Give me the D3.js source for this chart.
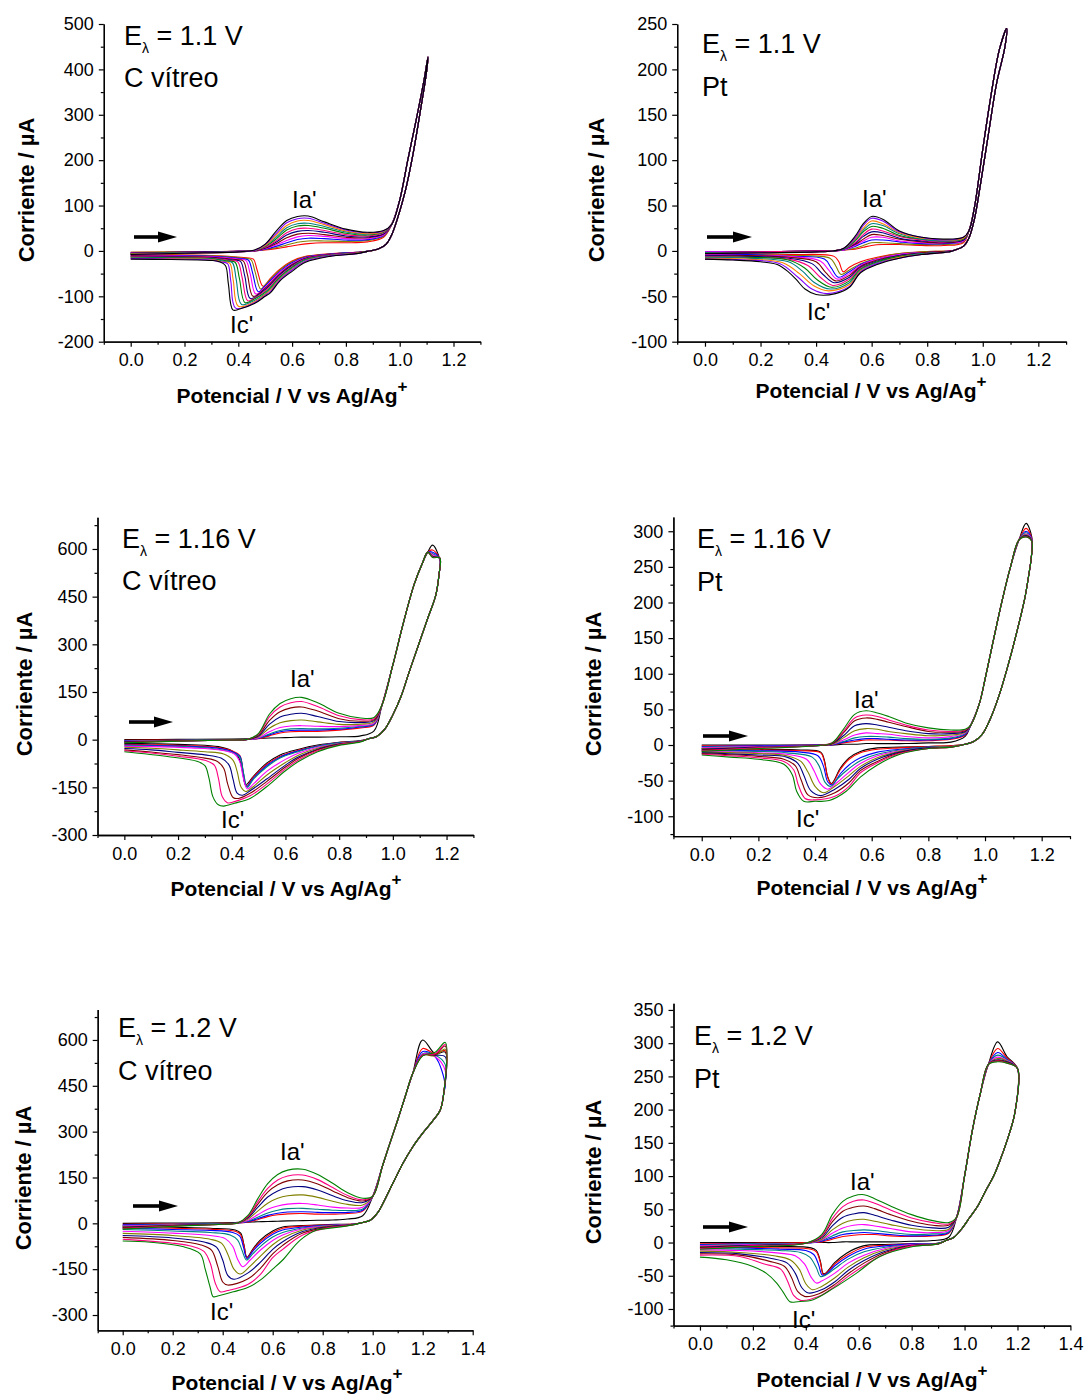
<!DOCTYPE html>
<html><head><meta charset="utf-8">
<script src="https://cdn.jsdelivr.net/npm/d3@7"></script>
<style>
body{margin:0;background:#fff}
svg{display:block}
text{font-family:"Liberation Sans",Arial,sans-serif;white-space:pre}
</style>
</head><body>
<svg id="c" width="1086" height="1395"></svg>
<script>
// ---------------- shared tick labels / colours ----------------
const xTicksA = [0,0.2,0.4,0.6,0.8,1.0,1.2];
const xTicksB = [0,0.2,0.4,0.6,0.8,1.0,1.2,1.4];
const xMinor = [-0.1,0.1,0.3,0.5,0.7,0.9,1.1,1.3];
const colors12 = ['#ff0000','#808000','#0000ff','#ff00ff','#800000','#000080','#ff0080','#008000','#008080','#ff8000','#8000ff','#000000'];
const colors10 = ['#000000','#ff0000','#0000ff','#008080','#ff00ff','#808000','#000080','#800000','#ff0080','#008000'];

// ---------------- Panel 1 : C vitreo, E = 1.1 V ----------------
const p1YTicks = [-200,-100,0,100,200,300,400,500];
const p1YMinor = [-150,-50,50,150,250,350,450];
const p1FwdE = [0,0.2,0.4,0.46,0.5,0.54,0.58,0.62,0.66,0.72,0.8,0.88,0.94];
const p1Fwd = [
 [-3,-2,-1,0,2,5,9,13,16,18,18,20,30],
 [-3,-2,-1,0,3,7,13,19,22,22,21,23,32],
 [-4,-3,-1,0,4,10,18,25,28,27,24,25,34],
 [-4,-3,-1,0,5,13,23,31,34,32,27,27,35],
 [-5,-3,-1,0,6,16,29,37,39,36,30,29,37],
 [-5,-3,-1,1,7,19,35,43,45,41,33,31,38],
 [-6,-4,-2,1,8,22,40,49,50,45,36,33,40],
 [-6,-4,-2,1,10,26,46,55,56,50,39,35,41],
 [-7,-4,-2,1,11,30,51,60,61,54,42,37,42],
 [-7,-5,-2,1,12,34,56,66,67,58,44,38,43],
 [-8,-5,-2,1,14,38,62,71,72,61,46,40,44],
 [-8,-5,-2,2,15,43,67,76,77,64,48,41,45]];
const p1HiFwdE = [0.97,1.0,1.03,1.06,1.09,1.105];
const p1HiFwdI = [58,112,200,285,375,427];
const p1HiRevE = [1.1,1.08,1.05,1.02,0.99,0.97,0.95,0.92,0.88];
const p1HiRevI = [395,320,215,130,68,35,15,4,-1];
const p1Rev = [
 [[0.84,-3],[0.74,-6],[0.65,-12],[0.6,-22],[0.555,-40],[0.52,-60],[0.492,-78],[0.47,-42],[0.456,-18],[0.43,-15],[0.3,-10],[0.15,-8],[0,-7]],
 [[0.84,-3],[0.74,-7],[0.65,-13],[0.6,-24],[0.555,-42],[0.52,-62],[0.5,-75],[0.483,-84],[0.462,-45],[0.447,-19],[0.42,-16],[0.3,-11],[0.15,-9],[0,-8]],
 [[0.84,-3],[0.74,-7],[0.65,-14],[0.6,-26],[0.555,-45],[0.52,-65],[0.5,-77],[0.474,-90],[0.453,-48],[0.437,-20],[0.41,-17],[0.3,-12],[0.15,-10],[0,-9]],
 [[0.84,-4],[0.74,-8],[0.65,-15],[0.6,-28],[0.555,-47],[0.52,-68],[0.5,-80],[0.465,-95],[0.444,-50],[0.428,-21],[0.4,-18],[0.3,-13],[0.15,-11],[0,-10]],
 [[0.84,-4],[0.74,-8],[0.65,-16],[0.6,-30],[0.555,-50],[0.52,-71],[0.5,-82],[0.455,-100],[0.434,-52],[0.418,-22],[0.39,-19],[0.3,-14],[0.15,-12],[0,-11]],
 [[0.84,-4],[0.74,-9],[0.65,-17],[0.6,-32],[0.555,-52],[0.52,-74],[0.5,-85],[0.445,-105],[0.424,-55],[0.408,-23],[0.38,-20],[0.3,-15],[0.15,-13],[0,-12]],
 [[0.84,-4],[0.74,-9],[0.65,-18],[0.6,-34],[0.555,-55],[0.52,-77],[0.5,-88],[0.46,-104],[0.435,-110],[0.414,-58],[0.398,-24],[0.37,-21],[0.3,-16],[0.15,-14],[0,-13]],
 [[0.84,-5],[0.74,-10],[0.65,-19],[0.6,-36],[0.555,-57],[0.52,-80],[0.5,-91],[0.46,-106],[0.425,-114],[0.404,-60],[0.388,-25],[0.36,-22],[0.3,-17],[0.15,-15],[0,-14]],
 [[0.84,-5],[0.74,-10],[0.65,-20],[0.6,-38],[0.555,-60],[0.52,-83],[0.5,-94],[0.46,-109],[0.412,-118],[0.392,-62],[0.378,-26],[0.35,-23],[0.3,-18],[0.15,-16],[0,-15]],
 [[0.84,-5],[0.74,-11],[0.65,-22],[0.6,-40],[0.555,-62],[0.52,-86],[0.5,-96],[0.46,-112],[0.40,-122],[0.381,-64],[0.368,-27],[0.34,-24],[0.3,-19],[0.15,-17],[0,-16]],
 [[0.84,-6],[0.74,-11],[0.65,-23],[0.6,-42],[0.555,-64],[0.52,-89],[0.5,-98],[0.46,-114],[0.39,-126],[0.372,-66],[0.36,-28],[0.33,-24],[0.3,-20],[0.15,-18],[0,-17]],
 [[0.84,-6],[0.74,-12],[0.65,-25],[0.6,-45],[0.555,-66],[0.52,-92],[0.5,-100],[0.46,-116],[0.405,-128],[0.38,-130],[0.363,-72],[0.352,-32],[0.33,-24],[0.3,-21],[0.15,-19],[0,-18]]];

// ---------------- Panel 2 : Pt, E = 1.1 V ----------------
const p2YTicks = [-100,-50,0,50,100,150,200,250];
const p2YMinor = [-75,-25,25,75,125,175,225];
const p2FwdE = [0,0.2,0.4,0.46,0.5,0.54,0.57,0.6,0.64,0.7,0.78,0.86,0.93];
const p2Fwd = [
 [-1,-1,0,0,1,2,4,6,7,7,6,6,9],
 [-1,-1,0,0,1,3,6,9,9,8,7,7,10],
 [-1,-1,0,0,1,5,9,12,12,10,8,8,11],
 [-1,-1,0,0,1,6,11,15,15,11,9,9,11],
 [-2,-1,0,0,2,7,13,18,17,13,10,9,12],
 [-2,-1,0,0,2,8,16,21,20,14,11,10,12],
 [-2,-1,0,0,2,9,18,24,22,16,12,10,13],
 [-2,-2,-1,0,2,11,21,27,25,17,13,11,13],
 [-2,-2,-1,0,2,12,23,30,28,19,13,11,14],
 [-3,-2,-1,0,3,13,25,33,30,20,14,12,14],
 [-3,-2,-1,0,3,14,28,36,33,21,15,12,15],
 [-3,-2,-1,0,3,16,30,38,35,22,15,13,15]];
const p2HiFwdE = [0.95,0.97,1.0,1.03,1.06,1.086];
const p2HiFwdI = [22,48,112,172,222,245];
const p2HiRevE = [1.08,1.05,1.02,0.99,0.97,0.95,0.93,0.9];
const p2HiRevI = [225,185,128,70,35,14,5,1];
const p2Rev = [
 [[0.88,0],[0.78,-1],[0.7,-3],[0.62,-7],[0.56,-12],[0.52,-18],[0.498,-23],[0.482,-12],[0.465,-6],[0.3,-4],[0.15,-3],[0,-3]],
 [[0.88,0],[0.78,-1],[0.7,-3],[0.62,-8],[0.56,-14],[0.52,-21],[0.49,-26],[0.47,-16],[0.45,-8],[0.3,-5],[0.15,-4],[0,-3]],
 [[0.88,0],[0.78,-2],[0.7,-4],[0.62,-9],[0.56,-15],[0.52,-23],[0.48,-29],[0.455,-19],[0.43,-9],[0.3,-6],[0.15,-4],[0,-4]],
 [[0.88,0],[0.78,-2],[0.7,-4],[0.62,-9],[0.56,-16],[0.52,-25],[0.475,-31],[0.445,-21],[0.415,-11],[0.3,-6],[0.15,-5],[0,-4]],
 [[0.88,0],[0.78,-2],[0.7,-5],[0.62,-10],[0.56,-17],[0.52,-27],[0.47,-33],[0.435,-24],[0.4,-12],[0.3,-7],[0.15,-5],[0,-5]],
 [[0.88,-1],[0.78,-3],[0.7,-5],[0.62,-11],[0.56,-18],[0.52,-29],[0.465,-35],[0.425,-26],[0.385,-14],[0.3,-8],[0.15,-6],[0,-5]],
 [[0.88,-1],[0.78,-3],[0.7,-6],[0.62,-12],[0.56,-19],[0.52,-31],[0.46,-38],[0.415,-29],[0.37,-16],[0.3,-9],[0.15,-7],[0,-6]],
 [[0.88,-1],[0.78,-3],[0.7,-6],[0.62,-12],[0.56,-20],[0.52,-33],[0.455,-40],[0.405,-32],[0.36,-19],[0.3,-10],[0.15,-7],[0,-7]],
 [[0.88,-1],[0.78,-3],[0.7,-7],[0.62,-13],[0.56,-21],[0.52,-35],[0.45,-42],[0.395,-35],[0.35,-22],[0.3,-12],[0.15,-8],[0,-7]],
 [[0.88,-1],[0.78,-4],[0.7,-7],[0.62,-14],[0.56,-22],[0.52,-37],[0.445,-44],[0.39,-38],[0.34,-25],[0.28,-13],[0.15,-9],[0,-8]],
 [[0.88,-1],[0.78,-4],[0.7,-8],[0.62,-14],[0.56,-23],[0.52,-39],[0.44,-47],[0.385,-42],[0.335,-29],[0.27,-14],[0.15,-10],[0,-9]],
 [[0.88,-1],[0.78,-4],[0.7,-8],[0.62,-15],[0.56,-24],[0.52,-40],[0.47,-47],[0.40,-48],[0.36,-42],[0.33,-32],[0.3,-23],[0.26,-15],[0.2,-12],[0.1,-10],[0,-9]]];

// ---------------- Panel 3 : C vitreo, E = 1.16 V ----------------
const p3YTicks = [-300,-150,0,150,300,450,600];
const p3YMinor = [-225,-75,75,225,375,525,675];
const p3FwdE = [0,0.2,0.4,0.46,0.5,0.54,0.58,0.62,0.66,0.72,0.8,0.88,0.93];
const p3Fwd = [
 [0,1,2,3,4,5,6,7,8,8,9,12,28],
 [-2,-1,0,1,3,12,21,25,26,26,30,37,46],
 [-3,-2,0,1,4,15,25,29,30,30,33,40,48],
 [-4,-2,0,1,5,18,29,34,35,34,36,42,50],
 [-5,-3,-1,1,6,25,38,43,44,42,41,45,52],
 [-6,-3,-1,1,9,36,53,60,62,56,48,49,56],
 [-7,-4,-1,1,12,48,71,80,83,73,57,54,60],
 [-8,-4,-1,1,15,60,88,100,103,90,66,58,63],
 [-9,-5,-1,1,18,72,103,116,120,104,75,63,66],
 [-10,-5,-1,1,20,80,114,129,133,116,83,68,70]];
const p3HiFwdE = [0.96,1.0,1.04,1.08,1.11,1.13];
const p3HiFwdI = [110,235,370,490,555,590];
const p3TopE = [1.148,1.175];
const p3Top = [[612,566],[597,568],[590,569],[585,570],[582,570],[578,570],[576,571],[575,571],[574,572],[573,572]];
const p3HiRevE = [1.172,1.16,1.13,1.1,1.06,1.03,1.0,0.97,0.94,0.91];
const p3HiRevI = [520,455,382,309,211,135,78,33,10,3];
const p3Rev = [
 [[0.88,-3],[0.8,-8],[0.72,-17],[0.65,-30],[0.58,-48],[0.53,-74],[0.48,-116],[0.452,-142],[0.44,-100],[0.425,-55],[0.4,-35],[0.35,-22],[0.25,-16],[0.1,-13],[0,-12]],
 [[0.88,-4],[0.8,-9],[0.72,-19],[0.65,-33],[0.58,-52],[0.53,-78],[0.48,-118],[0.455,-145],[0.442,-100],[0.43,-50],[0.4,-35],[0.35,-25],[0.25,-19],[0.1,-16],[0,-15]],
 [[0.88,-4],[0.8,-10],[0.72,-20],[0.65,-35],[0.58,-55],[0.53,-82],[0.48,-122],[0.455,-148],[0.442,-100],[0.43,-52],[0.4,-37],[0.35,-27],[0.25,-21],[0.1,-18],[0,-17]],
 [[0.88,-4],[0.8,-10],[0.72,-21],[0.65,-37],[0.58,-58],[0.53,-86],[0.48,-125],[0.458,-150],[0.444,-105],[0.43,-55],[0.4,-40],[0.35,-30],[0.25,-23],[0.1,-20],[0,-19]],
 [[0.88,-5],[0.8,-12],[0.72,-24],[0.65,-42],[0.6,-62],[0.53,-100],[0.48,-140],[0.458,-155],[0.443,-120],[0.43,-70],[0.41,-45],[0.35,-32],[0.25,-26],[0.1,-22],[0,-21]],
 [[0.88,-5],[0.8,-13],[0.72,-27],[0.65,-48],[0.6,-72],[0.53,-112],[0.48,-148],[0.452,-163],[0.435,-150],[0.42,-100],[0.405,-65],[0.37,-45],[0.3,-38],[0.2,-32],[0.1,-27],[0,-24]],
 [[0.88,-5],[0.8,-14],[0.72,-30],[0.65,-54],[0.6,-80],[0.53,-124],[0.47,-160],[0.44,-175],[0.42,-168],[0.405,-125],[0.39,-80],[0.36,-58],[0.3,-48],[0.2,-40],[0.1,-32],[0,-28]],
 [[0.88,-6],[0.8,-15],[0.72,-32],[0.65,-58],[0.6,-86],[0.53,-132],[0.47,-168],[0.425,-185],[0.405,-182],[0.385,-140],[0.37,-90],[0.345,-68],[0.3,-58],[0.2,-47],[0.1,-39],[0,-32]],
 [[0.88,-6],[0.8,-16],[0.72,-35],[0.65,-63],[0.6,-92],[0.53,-140],[0.47,-176],[0.41,-195],[0.385,-199],[0.365,-180],[0.35,-120],[0.335,-80],[0.3,-65],[0.2,-52],[0.1,-42],[0,-35]],
 [[0.88,-7],[0.8,-18],[0.72,-38],[0.65,-68],[0.6,-98],[0.53,-148],[0.47,-184],[0.41,-200],[0.37,-209],[0.35,-205],[0.33,-180],[0.315,-120],[0.3,-82],[0.27,-68],[0.16,-53],[0,-38]]];

// ---------------- Panel 4 : Pt, E = 1.16 V ----------------
const p4YTicks = [-100,-50,0,50,100,150,200,250,300];
const p4YMinor = [-125,-75,-25,25,75,125,175,225,275];
const p4FwdE = [0,0.2,0.4,0.46,0.5,0.54,0.58,0.62,0.66,0.72,0.8,0.88,0.93];
const p4Fwd = [
 [0,0,0,0,1,1,2,2,2,2,3,4,12],
 [-1,-1,0,0,3,5,7,7,7,6,6,8,14],
 [-2,-1,0,0,4,7,9,9,8,7,7,9,15],
 [-3,-2,-1,1,5,10,12,12,11,9,8,10,16],
 [-4,-2,-1,1,7,14,17,16,15,12,10,12,17],
 [-5,-3,-1,1,10,20,23,22,19,16,13,14,18],
 [-6,-3,-1,2,13,27,30,28,25,20,16,16,19],
 [-7,-4,-1,2,17,34,38,36,32,26,19,18,20],
 [-8,-4,-1,3,19,38,42,40,35,28,21,19,21],
 [-9,-5,-1,3,22,43,48,45,40,31,24,21,22]];
const p4HiFwdE = [0.95,0.98,1.0,1.03,1.06,1.09,1.12];
const p4HiFwdI = [28,58,92,148,202,250,288];
const p4TopE = [1.145,1.165];
const p4Top = [[311,292],[304,290],[300,289],[298,288],[296,288],[295,287],[294,287],[293,286],[292,286],[292,286]];
const p4HiRevE = [1.163,1.155,1.14,1.11,1.08,1.05,1.02,0.99,0.96,0.93];
const p4HiRevI = [262,240,205,155,110,70,38,15,5,1];
const p4Rev = [
 [[0.88,-1],[0.8,-2],[0.7,-3],[0.62,-4],[0.56,-9],[0.52,-18],[0.49,-32],[0.458,-54],[0.445,-45],[0.432,-20],[0.42,-10],[0.35,-7],[0.2,-6],[0,-5]],
 [[0.88,-1],[0.8,-2],[0.7,-4],[0.62,-6],[0.56,-11],[0.52,-20],[0.49,-34],[0.458,-55],[0.445,-46],[0.432,-22],[0.42,-11],[0.35,-8],[0.2,-7],[0,-6]],
 [[0.88,-2],[0.8,-3],[0.7,-6],[0.62,-10],[0.56,-18],[0.52,-28],[0.49,-40],[0.46,-56],[0.445,-52],[0.43,-30],[0.41,-15],[0.35,-10],[0.2,-8],[0,-7]],
 [[0.88,-2],[0.8,-3],[0.7,-7],[0.62,-13],[0.56,-22],[0.52,-33],[0.48,-47],[0.455,-58],[0.435,-52],[0.415,-30],[0.39,-17],[0.3,-11],[0.2,-9],[0,-8]],
 [[0.88,-2],[0.8,-4],[0.7,-8],[0.62,-15],[0.56,-26],[0.52,-38],[0.48,-52],[0.445,-62],[0.42,-55],[0.395,-35],[0.37,-20],[0.3,-13],[0.2,-11],[0,-9]],
 [[0.88,-2],[0.8,-4],[0.7,-9],[0.62,-18],[0.56,-30],[0.52,-43],[0.47,-58],[0.43,-67],[0.4,-58],[0.375,-38],[0.35,-23],[0.3,-15],[0.2,-12],[0,-10]],
 [[0.88,-3],[0.8,-4],[0.7,-10],[0.62,-20],[0.56,-33],[0.52,-48],[0.47,-62],[0.42,-71],[0.385,-64],[0.36,-42],[0.34,-26],[0.3,-17],[0.2,-14],[0,-11]],
 [[0.88,-3],[0.8,-5],[0.7,-11],[0.62,-23],[0.56,-36],[0.52,-53],[0.47,-67],[0.41,-74],[0.375,-70],[0.35,-48],[0.33,-29],[0.29,-20],[0.2,-16],[0,-12]],
 [[0.88,-3],[0.8,-5],[0.7,-12],[0.62,-25],[0.56,-39],[0.52,-58],[0.47,-72],[0.4,-77],[0.365,-75],[0.34,-55],[0.325,-35],[0.29,-23],[0.2,-18],[0,-13]],
 [[0.88,-3],[0.8,-5],[0.7,-13],[0.62,-28],[0.56,-45],[0.51,-65],[0.45,-78],[0.4,-79],[0.36,-79],[0.335,-65],[0.32,-42],[0.29,-27],[0.2,-20],[0.1,-17],[0,-14]]];

// ---------------- Panel 5 : C vitreo, E = 1.2 V ----------------
const p5YTicks = [-300,-150,0,150,300,450,600];
const p5YMinor = [-225,-75,75,225,375,525,675];
const p5FwdE = [0,0.2,0.4,0.46,0.5,0.54,0.58,0.62,0.66,0.72,0.78,0.84,0.9,0.96];
const p5Fwd = [
 [0,1,2,3,4,5,6,7,8,9,10,11,14,25],
 [-3,-2,0,1,4,12,22,28,31,32,30,30,32,40],
 [-5,-3,-1,1,5,15,26,33,37,38,36,35,36,43],
 [-7,-4,-1,1,7,20,34,43,48,49,46,43,42,47],
 [-9,-5,-2,1,9,28,46,57,63,65,60,53,50,53],
 [-11,-6,-2,1,13,40,66,82,90,93,85,72,62,60],
 [-13,-7,-2,1,17,52,86,106,117,120,109,90,74,68],
 [-15,-8,-3,1,20,62,102,126,139,142,129,106,84,73],
 [-17,-9,-3,1,22,70,114,142,155,158,143,117,91,77],
 [-19,-10,-3,1,25,80,130,160,174,177,160,131,100,82]];
const p5HiFwdE = [1.0,1.04,1.07,1.1,1.13,1.16];
const p5HiFwdI = [88,190,265,338,415,490];
const p5TopE = [1.2,1.25,1.29];
const p5Top = [[600,555,560],[572,555,565],[562,545,450],[555,550,520],[553,545,500],[550,548,570],[550,550,545],[550,552,580],[550,555,585],[548,560,592]];
const p5HiRevE = [1.285,1.27,1.24,1.2,1.16,1.12,1.08,1.05,1.02,0.99,0.96];
const p5HiRevI = [430,370,335,295,250,195,130,80,35,10,3];
const p5Rev = [
 [[0.92,-2],[0.82,-4],[0.72,-7],[0.64,-12],[0.6,-25],[0.55,-55],[0.52,-85],[0.497,-111],[0.485,-70],[0.472,-32],[0.45,-22],[0.35,-16],[0.2,-13],[0,-9]],
 [[0.92,-2],[0.82,-5],[0.72,-9],[0.64,-16],[0.6,-30],[0.55,-60],[0.52,-88],[0.497,-113],[0.485,-72],[0.47,-35],[0.45,-26],[0.35,-19],[0.2,-16],[0,-12]],
 [[0.92,-3],[0.82,-6],[0.72,-12],[0.64,-22],[0.6,-36],[0.55,-66],[0.52,-92],[0.497,-115],[0.483,-78],[0.468,-42],[0.44,-30],[0.35,-23],[0.2,-20],[0,-16]],
 [[0.92,-3],[0.82,-7],[0.72,-15],[0.64,-30],[0.6,-45],[0.55,-76],[0.52,-100],[0.495,-120],[0.478,-90],[0.46,-55],[0.43,-38],[0.35,-30],[0.2,-25],[0,-20]],
 [[0.92,-3],[0.82,-8],[0.72,-18],[0.64,-38],[0.6,-56],[0.55,-88],[0.51,-120],[0.48,-142],[0.46,-118],[0.44,-75],[0.41,-50],[0.35,-40],[0.2,-32],[0,-26]],
 [[0.92,-4],[0.82,-9],[0.72,-22],[0.64,-48],[0.6,-70],[0.55,-108],[0.51,-140],[0.47,-166],[0.445,-150],[0.42,-100],[0.395,-65],[0.35,-52],[0.2,-40],[0,-33]],
 [[0.92,-4],[0.82,-11],[0.72,-27],[0.64,-60],[0.6,-85],[0.55,-128],[0.5,-163],[0.445,-183],[0.42,-170],[0.4,-120],[0.375,-78],[0.33,-62],[0.2,-48],[0,-40]],
 [[0.92,-5],[0.82,-13],[0.72,-32],[0.64,-72],[0.6,-100],[0.55,-148],[0.5,-182],[0.42,-202],[0.4,-192],[0.38,-140],[0.355,-88],[0.31,-70],[0.2,-56],[0,-46]],
 [[0.92,-5],[0.82,-15],[0.72,-38],[0.64,-85],[0.6,-112],[0.55,-168],[0.5,-200],[0.42,-220],[0.39,-224],[0.37,-195],[0.35,-130],[0.325,-92],[0.28,-76],[0.2,-65],[0,-52]],
 [[0.92,-5],[0.82,-17],[0.776,-22],[0.71,-55],[0.64,-120],[0.6,-150],[0.55,-186],[0.5,-210],[0.443,-224],[0.38,-238],[0.362,-240],[0.35,-210],[0.33,-150],[0.31,-100],[0.24,-76],[0.11,-62],[0,-58]]];

// ---------------- Panel 6 : Pt, E = 1.2 V ----------------
const p6YTicks = [-100,-50,0,50,100,150,200,250,300,350];
const p6YMinor = [-125,-75,-25,25,75,125,175,225,275,325];
const p6FwdE = [0,0.2,0.4,0.46,0.5,0.54,0.58,0.62,0.66,0.72,0.8,0.88,0.94];
const p6Fwd = [
 [0,0,0,0,0,1,1,1,1,1,2,3,8],
 [-2,-1,0,1,5,9,11,12,12,10,9,10,14],
 [-3,-2,-1,2,7,12,14,15,14,12,10,11,15],
 [-4,-2,-1,3,10,16,18,19,18,15,12,13,16],
 [-5,-3,-1,4,14,22,26,27,25,21,16,15,18],
 [-6,-4,-1,5,19,29,34,35,32,27,21,18,20],
 [-7,-4,-1,7,25,38,43,45,41,34,26,22,23],
 [-8,-5,-1,9,31,47,53,55,51,42,32,26,26],
 [-9,-5,-1,10,36,54,62,64,59,49,37,30,28],
 [-10,-6,-1,12,42,62,70,72,66,55,42,33,30]];
const p6HiFwdE = [0.97,1.0,1.03,1.06,1.09];
const p6HiFwdI = [38,100,170,225,268];
const p6TopE = [1.125,1.16,1.2];
const p6Top = [[302,280,262],[292,278,262],[286,276,262],[282,275,262],[279,274,262],[277,273,262],[275,272,262],[274,271,262],[273,270,262],[272,270,262]];
const p6HiRevE = [1.19,1.17,1.14,1.11,1.08,1.05,1.02,0.99,0.96,0.93];
const p6HiRevI = [195,165,130,100,78,55,38,21,8,3];
const p6Rev = [
 [[0.9,-1],[0.8,-2],[0.7,-3],[0.617,-5],[0.554,-16],[0.51,-30],[0.475,-46],[0.466,-47],[0.455,-28],[0.44,-12],[0.42,-8],[0.3,-6],[0.15,-5],[0,-5]],
 [[0.9,-1],[0.8,-2],[0.7,-4],[0.62,-7],[0.56,-18],[0.51,-32],[0.475,-47],[0.466,-48],[0.455,-30],[0.44,-14],[0.42,-10],[0.3,-8],[0.15,-7],[0,-6]],
 [[0.9,-1],[0.8,-2],[0.7,-5],[0.62,-10],[0.56,-21],[0.51,-35],[0.475,-48],[0.462,-49],[0.448,-33],[0.43,-18],[0.4,-12],[0.3,-10],[0.15,-8],[0,-8]],
 [[0.9,-1],[0.8,-3],[0.7,-7],[0.62,-14],[0.56,-25],[0.51,-39],[0.47,-50],[0.455,-51],[0.44,-38],[0.415,-22],[0.38,-15],[0.3,-12],[0.15,-10],[0,-9]],
 [[0.9,-2],[0.8,-3],[0.7,-9],[0.62,-19],[0.56,-31],[0.51,-46],[0.46,-58],[0.44,-61],[0.42,-52],[0.395,-32],[0.36,-20],[0.3,-16],[0.15,-12],[0,-11]],
 [[0.9,-2],[0.8,-4],[0.7,-11],[0.62,-23],[0.56,-37],[0.51,-53],[0.46,-66],[0.425,-71],[0.4,-62],[0.375,-40],[0.34,-26],[0.28,-20],[0.15,-15],[0,-13]],
 [[0.9,-2],[0.8,-4],[0.7,-13],[0.62,-27],[0.56,-42],[0.51,-59],[0.46,-71],[0.41,-76],[0.385,-68],[0.36,-46],[0.33,-31],[0.27,-24],[0.15,-17],[0,-15]],
 [[0.9,-2],[0.8,-5],[0.7,-15],[0.62,-31],[0.56,-47],[0.51,-63],[0.45,-77],[0.395,-81],[0.37,-74],[0.345,-52],[0.32,-36],[0.26,-28],[0.15,-19],[0,-17]],
 [[0.9,-2],[0.8,-5],[0.7,-17],[0.62,-35],[0.56,-51],[0.51,-66],[0.45,-81],[0.38,-87],[0.355,-80],[0.33,-57],[0.305,-40],[0.24,-32],[0.15,-21],[0,-19]],
 [[0.9,-2],[0.806,-6],[0.68,-21],[0.592,-46],[0.504,-69],[0.428,-86],[0.37,-89],[0.34,-89],[0.315,-75],[0.29,-61],[0.25,-46],[0.2,-36],[0.1,-26],[0,-22]]];

// ---------------- layout (positions only) ----------------
const panels = [
 {L:{x0:103.8,x1:480.4,y0:24,y1:341.7,xDom:[-0.1,1.3],yDom:[-200,500],ytx:34,yty:190,xtx:292,xty:403,eX:124,eY:45,mY:87,iaX:292,iaY:208,icX:230,icY:333,a0:134,a1:177,aY:237},
  D:{fwdE:p1FwdE,fwd:p1Fwd,hiFwdE:p1HiFwdE,hiFwdI:p1HiFwdI,hiRevE:p1HiRevE,hiRevI:p1HiRevI,rev:p1Rev,colors:colors12,yTicks:p1YTicks,yMinor:p1YMinor,xTicks:xTicksA,ev:'1.1',el:'C vítreo'}},
 {L:{x0:677.2,x1:1066.1,y0:24,y1:341.7,xDom:[-0.1,1.3],yDom:[-100,250],ytx:604,yty:190,xtx:871,xty:398,eX:702,eY:53,mY:96,iaX:862,iaY:207,icX:807,icY:320,a0:707,a1:752,aY:237},
  D:{fwdE:p2FwdE,fwd:p2Fwd,hiFwdE:p2HiFwdE,hiFwdI:p2HiFwdI,hiRevE:p2HiRevE,hiRevI:p2HiRevI,rev:p2Rev,colors:colors12,yTicks:p2YTicks,yMinor:p2YMinor,xTicks:xTicksA,ev:'1.1',el:'Pt'}},
 {L:{x0:97.5,x1:473.4,y0:517.2,y1:835,xDom:[-0.1,1.3],yDom:[-300,700],ytx:32,yty:684,xtx:286,xty:896,eX:122,eY:548,mY:590,iaX:290,iaY:687,icX:221,icY:828,a0:129,a1:173,aY:722},
  D:{fwdE:p3FwdE,fwd:p3Fwd,hiFwdE:p3HiFwdE,hiFwdI:p3HiFwdI,topE:p3TopE,top:p3Top,hiRevE:p3HiRevE,hiRevI:p3HiRevI,rev:p3Rev,colors:colors10,yTicks:p3YTicks,yMinor:p3YMinor,xTicks:xTicksA,ev:'1.16',el:'C vítreo'}},
 {L:{x0:673.4,x1:1070,y0:517,y1:836.2,xDom:[-0.1,1.3],yDom:[-128,320],ytx:601,yty:684,xtx:872,xty:895,eX:697,eY:548,mY:591,iaX:854,iaY:708,icX:796,icY:827,a0:703,a1:748,aY:736},
  D:{fwdE:p4FwdE,fwd:p4Fwd,hiFwdE:p4HiFwdE,hiFwdI:p4HiFwdI,topE:p4TopE,top:p4Top,hiRevE:p4HiRevE,hiRevI:p4HiRevI,rev:p4Rev,colors:colors10,yTicks:p4YTicks,yMinor:p4YMinor,xTicks:xTicksA,ev:'1.16',el:'Pt'}},
 {L:{x0:97.7,x1:472.7,y0:1009.4,y1:1330.3,xDom:[-0.1,1.4],yDom:[-350,700],ytx:31,yty:1178,xtx:287,xty:1390,eX:118,eY:1037,mY:1080,iaX:280,iaY:1160,icX:210,icY:1320,a0:133,a1:178,aY:1206},
  D:{fwdE:p5FwdE,fwd:p5Fwd,hiFwdE:p5HiFwdE,hiFwdI:p5HiFwdI,topE:p5TopE,top:p5Top,hiRevE:p5HiRevE,hiRevI:p5HiRevI,rev:p5Rev,colors:colors10,yTicks:p5YTicks,yMinor:p5YMinor,xTicks:xTicksB,ev:'1.2',el:'C vítreo'}},
 {L:{x0:673.5,x1:1070.4,y0:1003.3,y1:1325.6,xDom:[-0.1,1.4],yDom:[-125,360],ytx:601,yty:1172,xtx:872,xty:1387,eX:694,eY:1045,mY:1088,iaX:850,iaY:1190,icX:792,icY:1328,a0:703,a1:748,aY:1227},
  D:{fwdE:p6FwdE,fwd:p6Fwd,hiFwdE:p6HiFwdE,hiFwdI:p6HiFwdI,topE:p6TopE,top:p6Top,hiRevE:p6HiRevE,hiRevI:p6HiRevI,rev:p6Rev,colors:colors10,yTicks:p6YTicks,yMinor:p6YMinor,xTicks:xTicksB,ev:'1.2',el:'Pt'}}
];

const svg = d3.select('#c');
const FONT = '"Liberation Sans",Arial,sans-serif';

function drawPanel(L, D) {
  const x = d3.scaleLinear().domain(L.xDom).range([L.x0, L.x1]);
  const y = d3.scaleLinear().domain(L.yDom).range([L.y1, L.y0]);
  const g = svg.append('g');
  const line = d3.line().x(d => x(d[0])).y(d => y(d[1])).curve(d3.curveCatmullRom.alpha(0.5));

  D.fwd.forEach((row, k) => {
    let pts = D.fwdE.map((e, i) => [e, row[i]])
      .concat(D.hiFwdE.map((e, i) => [e, D.hiFwdI[i]]));
    if (D.topE) pts = pts.concat(D.topE.map((e, i) => [e, D.top[k][i]]));
    pts = pts.concat(D.hiRevE.map((e, i) => [e, D.hiRevI[i]])).concat(D.rev[k]);
    g.append('path').attr('d', line(pts)).attr('fill', 'none')
      .attr('stroke', D.colors[k]).attr('stroke-width', 1.1).attr('stroke-linejoin', 'round');
  });

  const styleAxis = sel => {
    sel.attr('font-size', 18).attr('font-family', FONT);
    sel.selectAll('path.domain').attr('stroke', '#000').attr('stroke-width', 1.3);
    sel.selectAll('.tick line').attr('stroke', '#000').attr('stroke-width', 1.2);
    sel.selectAll('.tick text').attr('fill', '#000');
  };
  const fmtY = d => String(d);
  g.append('g').attr('transform', `translate(0,${L.y1})`)
    .call(d3.axisBottom(x).tickValues(D.xTicks).tickFormat(d3.format('.1f')).tickSize(5).tickSizeOuter(0).tickPadding(7))
    .call(styleAxis);
  g.append('g').attr('transform', `translate(0,${L.y1})`)
    .call(d3.axisBottom(x).tickValues(xMinor.filter(v => v > L.xDom[0] - 1e-9 && v < L.xDom[1] + 1e-9)).tickFormat('').tickSize(3).tickSizeOuter(0))
    .call(styleAxis);
  g.append('g').attr('transform', `translate(${L.x0},0)`)
    .call(d3.axisLeft(y).tickValues(D.yTicks).tickFormat(fmtY).tickSize(5).tickSizeOuter(0).tickPadding(5))
    .call(styleAxis);
  g.append('g').attr('transform', `translate(${L.x0},0)`)
    .call(d3.axisLeft(y).tickValues(D.yMinor.filter(v => v >= L.yDom[0] && v <= L.yDom[1])).tickFormat('').tickSize(3).tickSizeOuter(0))
    .call(styleAxis);

  g.append('text').attr('transform', `translate(${L.ytx},${L.yty}) rotate(-90)`)
    .attr('text-anchor', 'middle').attr('font-weight', 'bold').attr('font-size', 22)
    .text('Corriente / µA');
  const xt = g.append('text').attr('x', L.xtx).attr('y', L.xty)
    .attr('text-anchor', 'middle').attr('font-weight', 'bold').attr('font-size', 21);
  xt.append('tspan').text('Potencial / V vs Ag/Ag');
  xt.append('tspan').attr('dy', -11).attr('font-size', 17).text('+');

  const et = g.append('text').attr('x', L.eX).attr('y', L.eY).attr('font-size', 27);
  et.append('tspan').text('E');
  et.append('tspan').attr('font-size', 14).attr('dy', 8).text('λ');
  et.append('tspan').attr('dy', -8).text(' = ' + D.ev + ' V');
  g.append('text').attr('x', L.eX).attr('y', L.mY).attr('font-size', 27).text(D.el);
  g.append('text').attr('x', L.iaX).attr('y', L.iaY).attr('font-size', 24).text("Ia'");
  g.append('text').attr('x', L.icX).attr('y', L.icY).attr('font-size', 24).text("Ic'");

  g.append('line').attr('x1', L.a0).attr('x2', L.a1 - 14).attr('y1', L.aY).attr('y2', L.aY)
    .attr('stroke', '#000').attr('stroke-width', 3.6);
  g.append('path').attr('d', `M${L.a1},${L.aY} L${L.a1 - 19},${L.aY - 5.5} L${L.a1 - 19},${L.aY + 5.5} Z`).attr('fill', '#000');
}

panels.forEach(p => drawPanel(p.L, p.D));
</script>
</body></html>
